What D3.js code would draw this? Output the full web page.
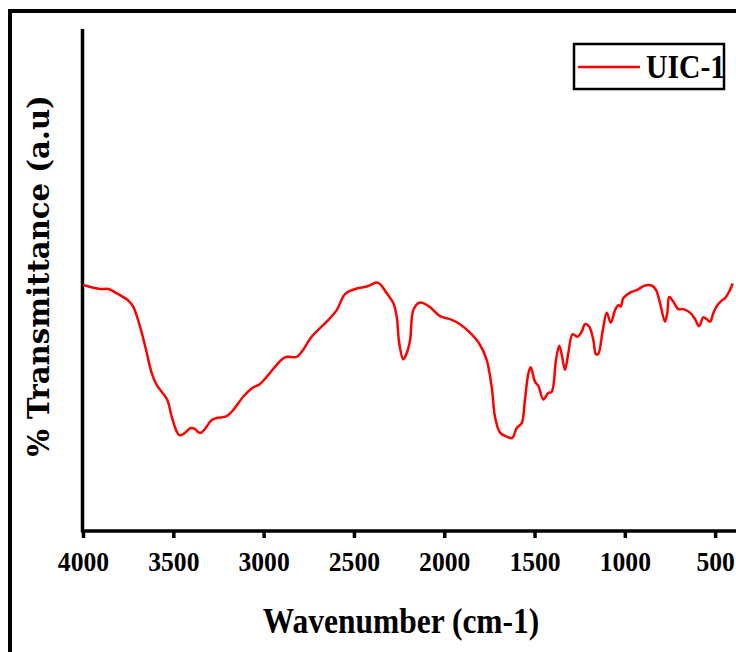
<!DOCTYPE html>
<html>
<head>
<meta charset="utf-8">
<script src="https://cdn.jsdelivr.net/npm/d3@7/dist/d3.min.js"></script>
<style>
html,body{margin:0;padding:0;background:#fff;}
svg{display:block;}
</style>
</head>
<body>
<svg id="chart" width="736" height="652"></svg>
<script>
// ---- data ----
const wavenumber = [4000,3906,3860,3813,3749,3722,3684,3647,3620,3592,3564,3533,3509,3481,3467,3445,3402,3380,3352,3330,3287,3260,3204,3168,3112,3066,3020,2983,2937,2882,2817,2789,2734,2651,2595,2549,2485,2429,2374,2356,2318,2282,2263,2249,2227,2208,2189,2171,2138,2116,2079,2023,1968,1913,1857,1802,1765,1737,1719,1691,1654,1626,1617,1599,1571,1553,1534,1521,1497,1479,1451,1424,1405,1381,1363,1349,1331,1313,1289,1263,1239,1220,1197,1174,1160,1147,1122,1100,1078,1054,1036,1023,1008,971,934,888,851,827,805,778,765,754,732,704,676,639,611,589,565,547,528,510,491,464,445,418,403];
const transmittance = [49.0,48.2,48.2,47.35,45.9,44.7,40.7,35.5,31.5,29.1,27.7,26.1,22.8,19.8,19.1,19.3,20.5,20.3,19.5,20.1,22.1,22.5,22.9,24.1,26.8,28.4,29.3,30.7,32.7,34.6,34.7,35.7,38.7,41.7,44.0,47.2,48.3,48.7,49.5,49.2,47.35,45.4,42.7,37.4,34.2,35.4,38.0,44.0,45.5,45.4,44.6,42.8,42.2,41.2,39.5,37.1,34.1,28.7,22.8,19.6,18.8,18.5,18.8,20.5,21.5,26.1,31.4,32.6,29.7,28.9,26.2,27.5,27.7,34.1,36.9,35.1,32.1,35.4,39.2,38.7,39.7,41.2,40.7,38.0,35.2,35.3,40.0,43.5,41.5,44.0,45.0,44.7,46.4,47.5,48.0,48.9,48.9,48.0,45.4,41.7,43.4,46.6,45.7,44.2,44.2,43.5,42.2,40.8,42.6,42.2,41.7,43.4,44.8,45.9,46.4,48.0,49.3];
const xTicks = [4000,3500,3000,2500,2000,1500,1000,500];
const seriesName = "UIC-1";
const xTitle = "Wavenumber (cm-1)";
const yTitle = "% Transmittance (a.u)";

const data = wavenumber.map((w,i)=>({x:w,y:transmittance[i]}));

const svg = d3.select("#chart");
const serif = "Liberation Serif, Times New Roman, serif";

// outer frame (top and left edges)
svg.append("line").attr("x1",8).attr("x2",736).attr("y1",11).attr("y2",11)
  .attr("stroke","#000").attr("stroke-width",4);
svg.append("line").attr("x1",10).attr("x2",10).attr("y1",9).attr("y2",652)
  .attr("stroke","#000").attr("stroke-width",4);

const x = d3.scaleLinear().domain([4000,390]).range([83,735]);
const y = d3.scaleLinear().domain([0,100]).range([531,29]);

// x axis
const xAxis = d3.axisBottom(x).tickValues(xTicks).tickSize(7).tickSizeOuter(0).tickFormat(d3.format("d"));
const gx = svg.append("g").attr("transform","translate(0,531)").call(xAxis)
  .attr("font-family",serif).attr("font-size",27);
gx.select(".domain").attr("stroke","#000").attr("stroke-width",3.5).attr("d","M81,0H736");
gx.selectAll(".tick line").attr("stroke","#000").attr("stroke-width",3.5);
gx.selectAll(".tick text").remove();
gx.selectAll(".tick").append("text")
  .attr("transform","translate(0,40) scale(0.95,1)")
  .attr("text-anchor","middle")
  .attr("fill","#000")
  .attr("font-family",serif).attr("font-weight","bold").attr("font-size",27)
  .text(d=>d);

// y axis line (no ticks)
svg.append("line").attr("x1",82.5).attr("x2",82.5).attr("y1",29).attr("y2",532)
  .attr("stroke","#000").attr("stroke-width",3.5);

// spectrum
const line = d3.line().x(d=>x(d.x)).y(d=>y(d.y)).curve(d3.curveCatmullRom.alpha(0.5));
svg.append("path").datum(data).attr("d",line)
  .attr("fill","none").attr("stroke","#ff0000").attr("stroke-width",2.5)
  .attr("stroke-linejoin","round");

// axis titles
svg.append("text").attr("transform","translate(401,633) scale(0.9,1)")
  .attr("text-anchor","middle").attr("fill","#000")
  .attr("font-family",serif).attr("font-weight","bold").attr("font-size",35)
  .text(xTitle);

svg.append("text").attr("transform","translate(49,276) rotate(-90) scale(0.97,1)")
  .attr("text-anchor","middle").attr("fill","#000")
  .attr("font-family","DejaVu Serif, serif").attr("font-weight","bold").attr("font-size",30)
  .text(yTitle);

// legend
const lg = svg.append("g");
lg.append("rect").attr("x",574).attr("y",44).attr("width",150).attr("height",45)
  .attr("fill","#fff").attr("stroke","#000").attr("stroke-width",2.5);
lg.append("line").attr("x1",578).attr("x2",640).attr("y1",67).attr("y2",67)
  .attr("stroke","#ff0000").attr("stroke-width",2.5);
lg.append("text").attr("transform","translate(646,78) scale(0.9,1)")
  .attr("fill","#000")
  .attr("font-family",serif).attr("font-weight","bold").attr("font-size",33)
  .text(seriesName);
</script>
</body>
</html>
